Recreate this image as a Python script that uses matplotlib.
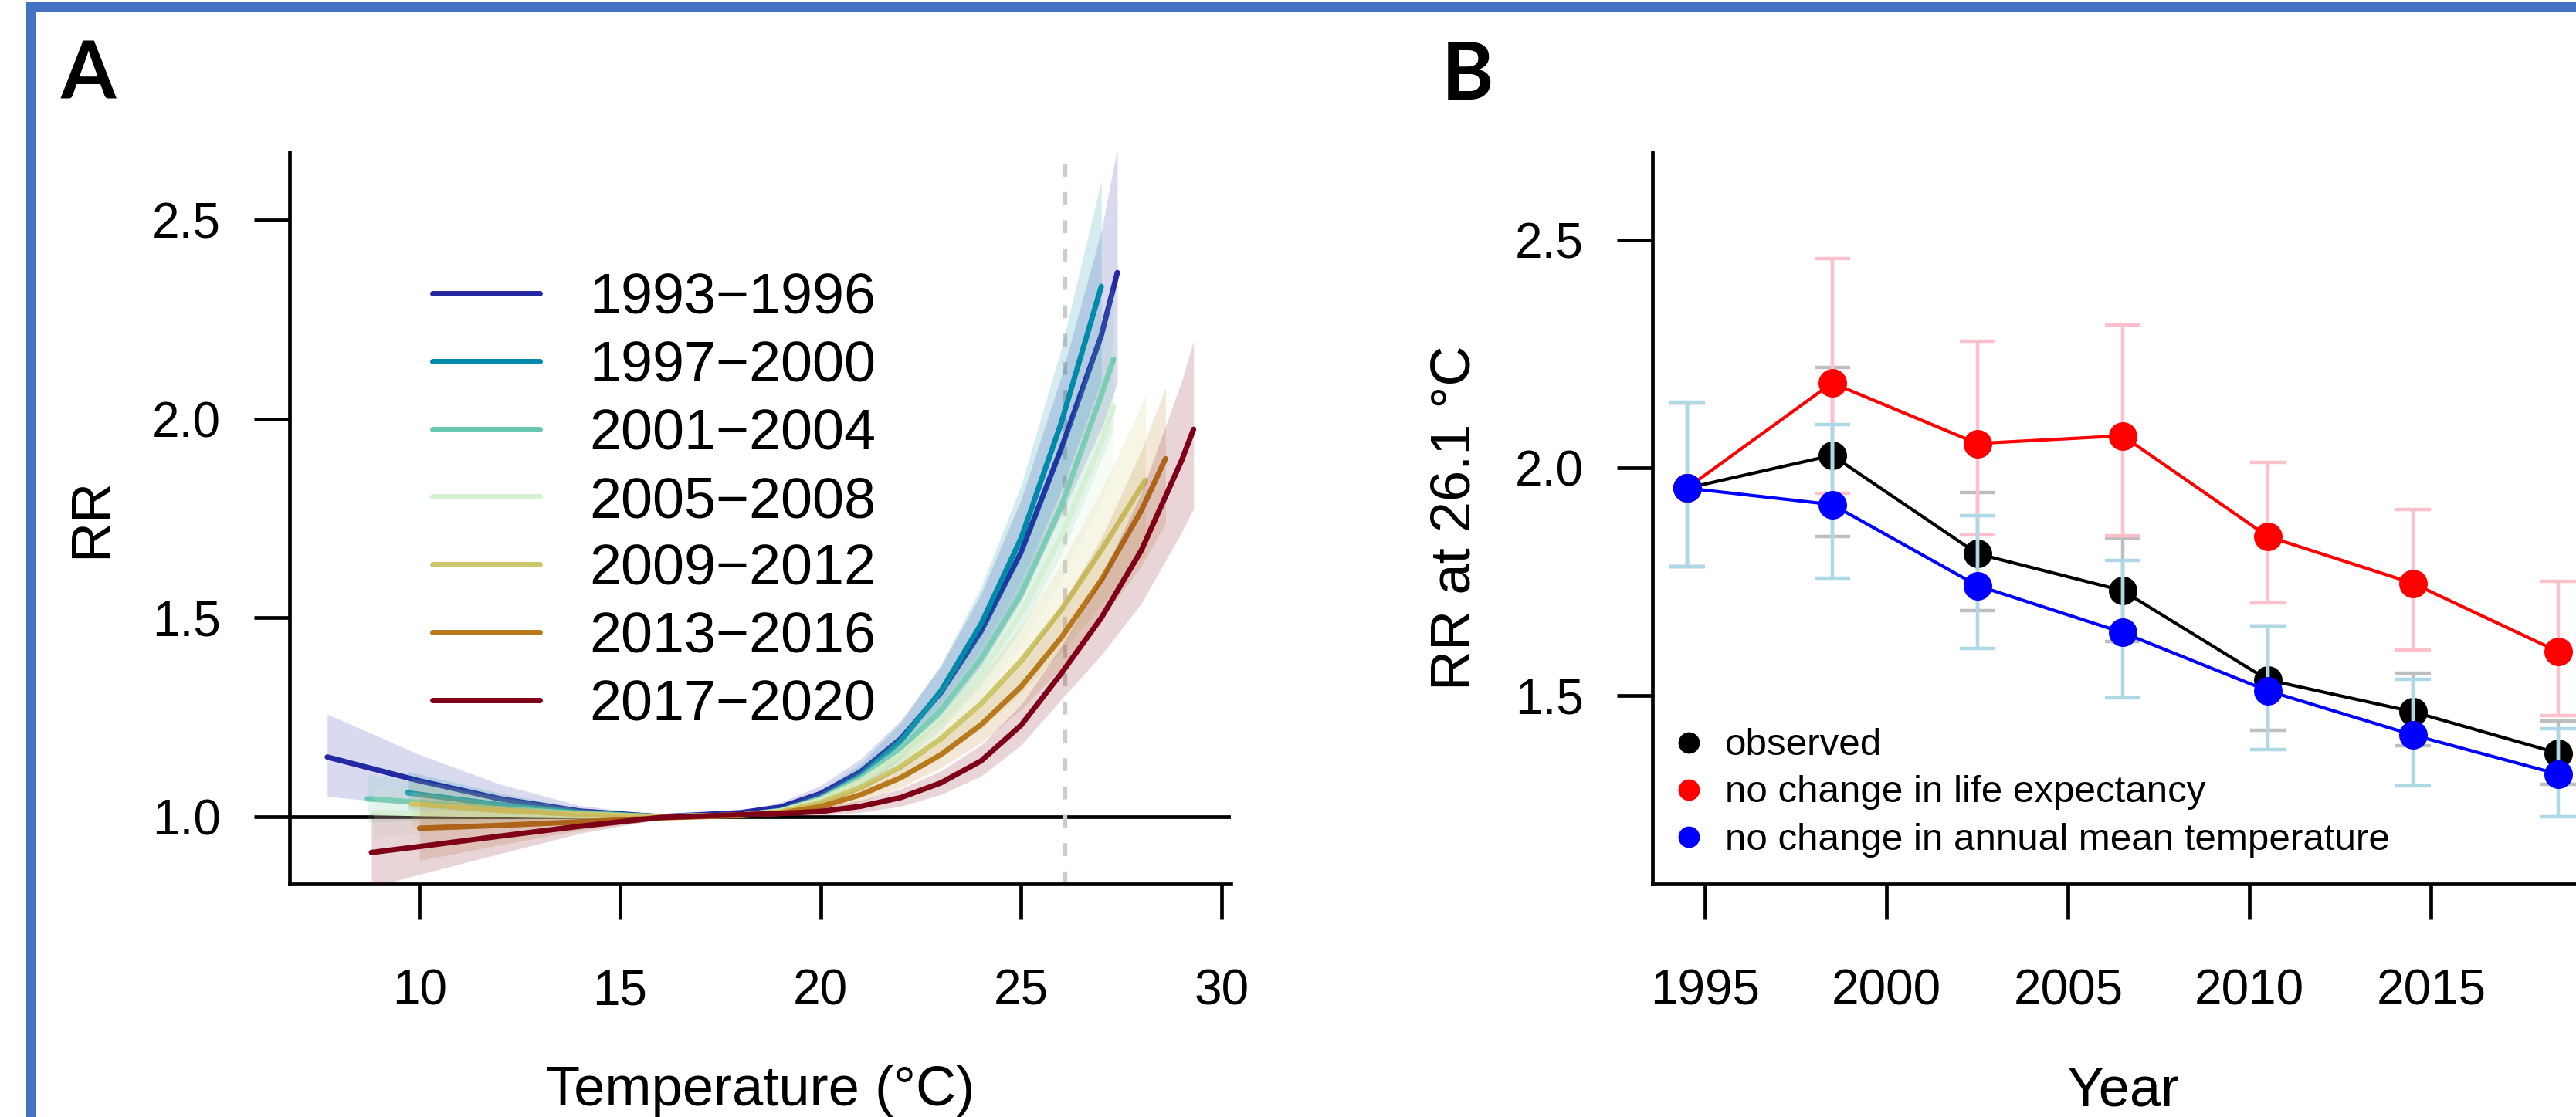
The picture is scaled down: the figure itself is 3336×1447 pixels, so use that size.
import matplotlib
matplotlib.use("Agg")
import matplotlib.pyplot as plt
from matplotlib.patches import Rectangle

plt.rcParams['font.family'] = ['Liberation Sans', 'DejaVu Sans']
plt.rcParams['lines.scale_dashes'] = False

# ---- panel A: RR by temperature, one curve per period ----
periods = ['1993\u22121996', '1997\u22122000', '2001\u22122004', '2005\u22122008',
           '2009\u22122012', '2013\u22122016', '2017\u22122020']
period_colors = ['#2328A3', '#0089A8', '#69C6B0', '#D5F0D2',
                 '#CDC76C', '#B8781C', '#7E0016']

temp_1993 = [7.7, 10, 12, 14, 16, 18, 19, 20, 21, 22, 23, 24, 25, 26, 27, 27.4]
rr_1993 = [1.150, 1.090, 1.045, 1.014, 1.000, 1.010, 1.024, 1.058, 1.113, 1.196, 1.312, 1.466, 1.665, 1.925, 2.210, 2.368]
lo_1993 = [1.051, 1.028, 1.009, 1.000, 0.996, 1.004, 1.012, 1.038, 1.082, 1.151, 1.249, 1.378, 1.543, 1.759, 1.976, 2.090]
hi_1993 = [1.258, 1.156, 1.082, 1.028, 1.004, 1.016, 1.036, 1.078, 1.145, 1.242, 1.378, 1.560, 1.797, 2.106, 2.472, 2.683]

temp_1997 = [9.7, 12, 14, 16, 18, 19, 20, 21, 22, 23, 24, 25, 26, 27.0]
rr_1997 = [1.060, 1.030, 1.010, 1.000, 1.003, 1.014, 1.045, 1.102, 1.190, 1.316, 1.484, 1.700, 1.990, 2.333]
lo_1997 = [1.008, 1.002, 0.999, 0.996, 0.997, 1.002, 1.025, 1.072, 1.145, 1.253, 1.396, 1.577, 1.820, 2.094]
hi_1997 = [1.114, 1.059, 1.021, 1.004, 1.009, 1.026, 1.065, 1.133, 1.236, 1.382, 1.577, 1.833, 2.176, 2.599]

temp_2001 = [8.7, 10, 12, 14, 16, 18, 19, 20, 21, 22, 23, 24, 25, 26, 27, 27.3]
rr_2001 = [1.045, 1.036, 1.020, 1.008, 1.000, 1.004, 1.015, 1.045, 1.096, 1.170, 1.268, 1.396, 1.560, 1.780, 2.060, 2.150]
lo_2001 = [0.986, 0.990, 0.993, 0.997, 0.996, 0.999, 1.006, 1.029, 1.072, 1.135, 1.219, 1.331, 1.471, 1.658, 1.896, 1.971]
hi_2001 = [1.107, 1.084, 1.048, 1.019, 1.004, 1.009, 1.024, 1.061, 1.120, 1.206, 1.318, 1.465, 1.655, 1.911, 2.238, 2.345]

temp_2005 = [8.85, 10, 12, 14, 16, 18, 19, 20, 21, 22, 23, 24, 25, 26, 27, 27.3]
rr_2005 = [1.010, 1.008, 1.005, 1.002, 1.000, 1.004, 1.014, 1.042, 1.089, 1.156, 1.244, 1.360, 1.512, 1.705, 1.940, 2.030]
lo_2005 = [0.948, 0.959, 0.975, 0.990, 0.996, 0.999, 1.006, 1.027, 1.067, 1.125, 1.201, 1.301, 1.433, 1.598, 1.798, 1.874]
hi_2005 = [1.076, 1.060, 1.036, 1.014, 1.004, 1.009, 1.022, 1.057, 1.111, 1.188, 1.288, 1.421, 1.596, 1.820, 2.093, 2.199]

temp_2009 = [9.8, 12, 14, 16, 18, 19, 20, 21, 22, 23, 24, 25, 26, 27, 28, 28.1]
rr_2009 = [1.032, 1.016, 1.006, 1.000, 1.004, 1.012, 1.035, 1.073, 1.126, 1.196, 1.284, 1.392, 1.520, 1.670, 1.830, 1.846]
lo_2009 = [0.972, 0.982, 0.992, 0.996, 0.999, 1.003, 1.020, 1.050, 1.092, 1.149, 1.221, 1.310, 1.413, 1.532, 1.648, 1.654]
hi_2009 = [1.096, 1.051, 1.020, 1.004, 1.009, 1.021, 1.051, 1.097, 1.162, 1.245, 1.350, 1.479, 1.635, 1.820, 2.033, 2.061]

temp_2013 = [10.0, 12, 14, 16, 18, 19, 20, 21, 22, 23, 24, 25, 26, 27, 28, 28.6]
rr_2013 = [0.971, 0.978, 0.987, 0.997, 1.003, 1.009, 1.025, 1.055, 1.098, 1.156, 1.231, 1.327, 1.450, 1.595, 1.770, 1.900]
lo_2013 = [0.890, 0.929, 0.966, 0.992, 0.999, 1.002, 1.014, 1.037, 1.073, 1.123, 1.186, 1.269, 1.374, 1.496, 1.631, 1.736]
hi_2013 = [1.059, 1.029, 1.008, 1.002, 1.007, 1.016, 1.036, 1.073, 1.124, 1.190, 1.277, 1.388, 1.530, 1.700, 1.921, 2.079]

temp_2017 = [8.8, 10, 12, 14, 16, 18, 19, 20, 21, 22, 23, 24, 25, 26, 27, 28, 29, 29.3]
rr_2017 = [0.910, 0.925, 0.951, 0.976, 0.998, 1.005, 1.008, 1.013, 1.026, 1.048, 1.085, 1.140, 1.230, 1.360, 1.500, 1.670, 1.895, 1.974]
lo_2017 = [0.823, 0.855, 0.907, 0.958, 0.994, 1.001, 1.002, 1.003, 1.011, 1.026, 1.056, 1.102, 1.180, 1.295, 1.406, 1.537, 1.715, 1.774]
hi_2017 = [1.006, 1.001, 0.997, 0.995, 1.002, 1.009, 1.014, 1.023, 1.041, 1.070, 1.115, 1.180, 1.282, 1.428, 1.601, 1.814, 2.094, 2.196]

ref_temp = 26.1

# ---- panel B: RR at 26.1 C by period midpoint ----
years = [1994.5, 1998.5, 2002.5, 2006.5, 2010.5, 2014.5, 2018.5]
observed = [1.955, 2.027, 1.811, 1.730, 1.534, 1.464, 1.373]
obs_lo = [1.783, 1.849, 1.686, 1.618, 1.424, 1.389, 1.305]
obs_hi = [2.142, 2.220, 1.945, 1.845, 1.652, 1.548, 1.443]
no_life = [1.955, 2.186, 2.053, 2.070, 1.849, 1.746, 1.596]
life_lo = [1.783, 1.944, 1.853, 1.851, 1.703, 1.600, 1.455]
life_hi = [2.142, 2.459, 2.277, 2.314, 2.011, 1.908, 1.751]
no_temp = [1.955, 1.919, 1.741, 1.638, 1.510, 1.413, 1.327]
temp_lo = [1.783, 1.758, 1.603, 1.494, 1.381, 1.301, 1.233]
temp_hi = [2.143, 2.095, 1.895, 1.797, 1.652, 1.535, 1.427]
series_labels = ['observed', 'no change in life expectancy',
                 'no change in annual mean temperature']

curves = [
    (temp_1993, rr_1993, lo_1993, hi_1993),
    (temp_1997, rr_1997, lo_1997, hi_1997),
    (temp_2001, rr_2001, lo_2001, hi_2001),
    (temp_2005, rr_2005, lo_2005, hi_2005),
    (temp_2009, rr_2009, lo_2009, hi_2009),
    (temp_2013, rr_2013, lo_2013, hi_2013),
    (temp_2017, rr_2017, lo_2017, hi_2017),
]

W, H = 3336, 1447
fig = plt.figure(figsize=(W / 100, H / 100), dpi=100)
fig.patch.set_facecolor('white')

# blue frame (left and top bars)
fig.add_artist(Rectangle((34 / W, 0), 12 / W, (H - 3) / H, transform=fig.transFigure,
                         color='#4472C4', lw=0))
fig.add_artist(Rectangle((34 / W, 1 - 15 / H), (W - 34) / W, 12 / H, transform=fig.transFigure,
                         color='#4472C4', lw=0))

axA = fig.add_axes([375 / W, 1 - 1145 / H, 1219 / W, 948 / H])
axB = fig.add_axes([2140 / W, 1 - 1145 / H, 1218 / W, 948 / H])


def style_axes(ax):
    for s in ['top', 'right']:
        ax.spines[s].set_visible(False)
    for s in ['left', 'bottom']:
        ax.spines[s].set_linewidth(3.4)
        ax.spines[s].set_capstyle('projecting')
    ax.tick_params(axis='both', length=33, width=3.4, labelsize=46)
    ax.tick_params(axis='x', pad=46)
    ax.tick_params(axis='y', pad=31)
    ax.set_facecolor('none')


# ---- panel A ----
style_axes(axA)
axA.axhline(1, color='black', lw=3.4, zorder=1)
axA.axvline(ref_temp, color='#CCCCCC', lw=3.8, dashes=(12, 14.4), zorder=1.5)
for i, (t, rr, lo, hi) in enumerate(curves):
    axA.fill_between(t, lo, hi, color=period_colors[i], alpha=0.17, lw=0, zorder=2 + 2 * i)
    axA.plot(t, rr, color=period_colors[i], lw=5, solid_capstyle='round',
             solid_joinstyle='round', zorder=3 + 2 * i)

axA.set_xlim(6.76, 30.23)
axA.set_ylim(0.831, 2.671)
axA.set_xticks([10, 15, 20, 25, 30])
axA.set_yticks([1.0, 1.5, 2.0, 2.5])
axA.set_yticklabels(['1.0', '1.5', '2.0', '2.5'])
axA.set_xlabel('Temperature (°C)', fontsize=52)
axA.xaxis.set_label_coords(0.5, -0.248)
axA.set_ylabel('RR', fontsize=52)
axA.yaxis.set_label_coords(-0.182, 0.5)

# legend, drawn by hand to match the R layout
for i, (label, color) in enumerate(zip(periods, period_colors)):
    y = 0.807 - i * 0.0926
    axA.plot([0.1518, 0.2658], [y, y], transform=axA.transAxes, color=color, lw=5,
             solid_capstyle='round', clip_on=False, zorder=20)
    axA.text(0.3183, y - 0.0283, label, transform=axA.transAxes, fontsize=53,
             ha='left', va='baseline', zorder=20)

# ---- panel B ----
style_axes(axB)
err = dict(fmt='none', capsize=16.9, elinewidth=3.2, capthick=3.2)
pt = dict(lw=3, marker='o', ms=26.6, mew=0)

axB.plot(years, observed, color='black', zorder=3, **pt)
axB.errorbar(years, observed, yerr=[[o - l for o, l in zip(observed, obs_lo)],
                                    [h - o for o, h in zip(observed, obs_hi)]],
             ecolor='#BEBEBE', zorder=4, **err)
axB.errorbar(years, no_life, yerr=[[o - l for o, l in zip(no_life, life_lo)],
                                   [h - o for o, h in zip(no_life, life_hi)]],
             ecolor='#FFC0CB', zorder=5, **err)
axB.plot(years, no_life, color='#FF0000', zorder=6, **pt)
axB.errorbar(years, no_temp, yerr=[[o - l for o, l in zip(no_temp, temp_lo)],
                                   [h - o for o, h in zip(no_temp, temp_hi)]],
             ecolor='#ADD8E6', zorder=7, **err)
axB.plot(years, no_temp, color='#0000FF', zorder=8, **pt)

axB.set_xlim(1993.55, 2019.46)
axB.set_ylim(1.086, 2.693)
axB.set_xticks([1995, 2000, 2005, 2010, 2015])
axB.set_yticks([1.5, 2.0, 2.5])
axB.set_yticklabels(['1.5', '2.0', '2.5'])
axB.set_xlabel('Year', fontsize=52)
axB.xaxis.set_label_coords(0.5, -0.248)
axB.set_ylabel('RR at 26.1 °C', fontsize=52)
axB.yaxis.set_label_coords(-0.182, 0.5)

for y, label, color in zip([0.1934, 0.129, 0.0643], series_labels,
                           ['black', '#FF0000', '#0000FF']):
    axB.plot([0.0383], [y], transform=axB.transAxes, marker='o', ms=20, mew=0,
             color=color, clip_on=False, zorder=20)
    axB.text(0.0772, y - 0.0175, label, transform=axB.transAxes, fontsize=35.5,
             ha='left', va='baseline', zorder=20)

# panel letters
fig.text(79 / W, 1 - 128 / H, 'A', fontsize=74, fontweight='bold', family=['Lato', 'DejaVu Sans'],
         ha='left', va='baseline')
fig.text(1867 / W, 1 - 129 / H, 'B', fontsize=74, fontweight='bold', family=['Lato', 'DejaVu Sans'],
         ha='left', va='baseline')

fig.savefig('out.png', dpi=100)
